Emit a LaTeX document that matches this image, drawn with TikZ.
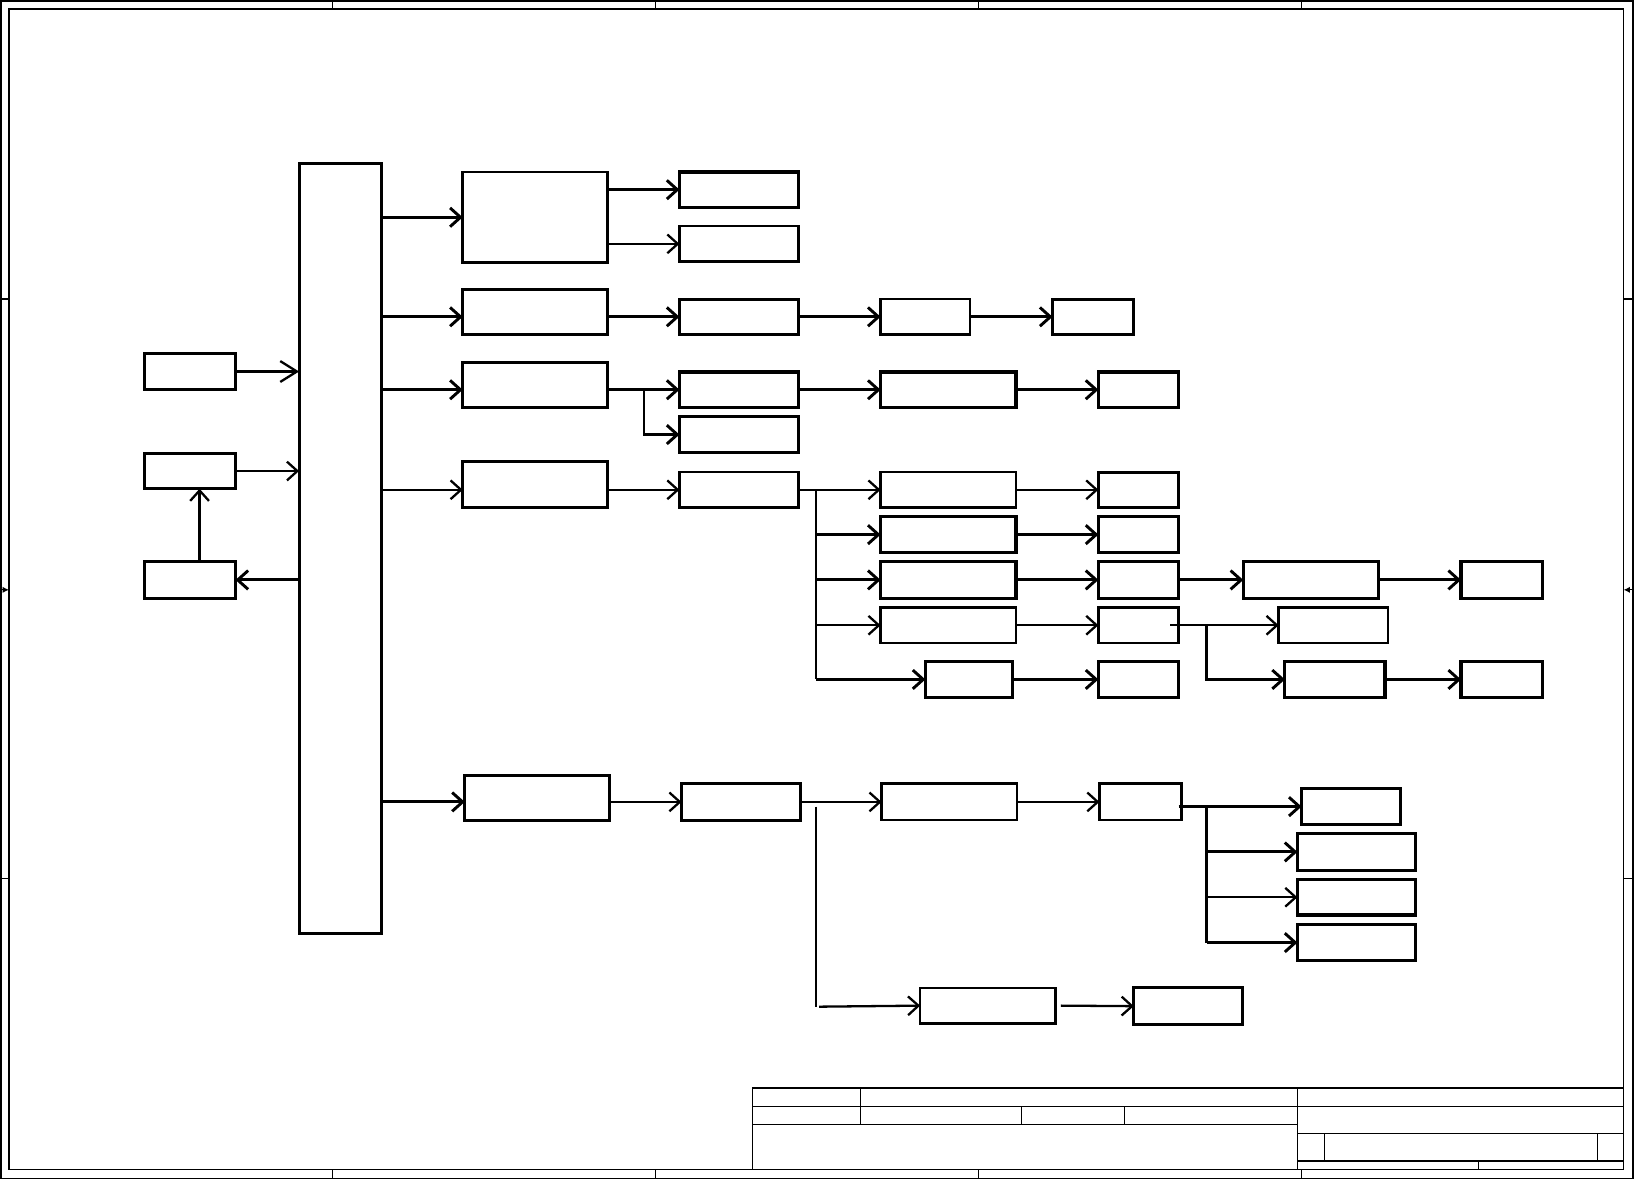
\documentclass[tikz,border=0pt]{standalone}
\usepackage{tikz}
\usetikzlibrary{arrows.meta,positioning,calc}

\begin{document}
\begin{tikzpicture}[x=0.5pt,y=-0.5pt,
    blk/.style={draw,line width=1.2pt,inner sep=0pt,outer sep=0pt},
    blkb/.style={blk,line width=1.5pt},
    arr/.style={-{Straight Barb[length=5pt,width=9pt]},line width=1.1pt},
    arrb/.style={arr,line width=1.4pt},
    bus/.style={line width=1.4pt},
    frm/.style={line width=0.6pt}
  ]
    \useasboundingbox (0,0) rectangle (1568,1132);
    % drawing frame and zone ticks
    \draw[frm] (1,1) rectangle (1567,1131);
    \draw[frm] (8.6,8.6) rectangle (1558,1122.5);
    \foreach \zx in {319,629,939,1249} {
      \draw[frm] (\zx,1) -- (\zx,8.6);
      \draw[frm] (\zx,1122.5) -- (\zx,1131);
    }
    \foreach \zy in {287,843} {
      \draw[frm] (1,\zy) -- (8.6,\zy);
      \draw[frm] (1558,\zy) -- (1567,\zy);
    }
    \draw[frm,-{Latex[length=3pt,width=3pt]}] (1,566) -- (8.6,566);
    \draw[frm,-{Latex[length=3pt,width=3pt]}] (1567,566) -- (1558,566);
    % title block
    \draw[frm] (722,1122.5) -- (722,1044) -- (1558,1044);
    \draw[frm] (722,1062) -- (1558,1062);
    \draw[frm] (722,1079) -- (1245,1079);
    \draw[frm] (826,1044) -- (826,1079);
    \draw[frm] (980,1062) -- (980,1079);
    \draw[frm] (1079,1062) -- (1079,1079);
    \draw[frm] (1245,1044) -- (1245,1122.5);
    \draw[frm] (1245,1088) -- (1558,1088);
    \draw[frm] (1245,1114) -- (1558,1114);
    \draw[frm] (1271,1088) -- (1271,1114);
    \draw[frm] (1533,1088) -- (1533,1114);
    \draw[frm] (1419,1114) -- (1419,1122.5);

    % main block and inputs
    \node[blkb,minimum width=39.5pt,minimum height=369.5pt] (main) at (326.5,526.5) {};
    \node[blkb,minimum width=43.5pt,minimum height=17.5pt] (in1) at (182.5,356.5) {};
    \node[blkb,minimum width=43.5pt,minimum height=17pt] (in2) at (182.5,452) {};
    \node[blkb,minimum width=43.5pt,minimum height=17.5pt] (out1) at (182.5,556.5) {};

    % second column
    \node[blk,minimum width=69.5pt,minimum height=43.5pt] (b1) at (513.5,208.5) {};
    \node[blkb,minimum width=69.5pt,minimum height=21.5pt] (b2) at (513.5,299.5) {};
    \node[blk,minimum width=69.5pt,minimum height=21.5pt] (b3) at (513.5,369.5) {};
    \node[blk,minimum width=69.5pt,minimum height=22pt] (b4) at (513.5,465) {};
    \node[blkb,minimum width=69.5pt,minimum height=21.5pt] (b5) at (515.5,765.5) {};

    % third column
    \node[blkb,minimum width=57pt,minimum height=17pt] (c1) at (709,182) {};
    \node[blk,minimum width=57pt,minimum height=17pt] (c2) at (709,234) {};
    \node[blkb,minimum width=57pt,minimum height=17pt] (c3) at (709,304) {};
    \node[blkb,minimum width=57pt,minimum height=17pt] (c4) at (709,374) {};
    \node[blkb,minimum width=57pt,minimum height=17pt] (c5) at (709,417) {};
    \node[blk,minimum width=57pt,minimum height=17pt] (c6) at (709,470) {};
    \node[blkb,minimum width=57pt,minimum height=17.5pt] (c7) at (711,769.5) {};

    % fourth column
    \node[blk,minimum width=43pt,minimum height=17pt] (d0) at (888,304) {};
    \node[blkb,minimum width=65pt,minimum height=17pt] (d00) at (910,374) {};
    \node[blk,minimum width=65pt,minimum height=17pt] (d1) at (910,470) {};
    \node[blkb,minimum width=65pt,minimum height=17pt] (d2) at (910,513) {};
    \node[blkb,minimum width=65pt,minimum height=17.5pt] (d3) at (910,556.5) {};
    \node[blk,minimum width=65pt,minimum height=17pt] (d4) at (910,600) {};
    \node[blkb,minimum width=42pt,minimum height=17pt] (d5) at (930,652) {};
    \node[blk,minimum width=65pt,minimum height=17.5pt] (d6) at (911,769.5) {};
    \node[blk,minimum width=65pt,minimum height=17pt] (d7) at (948,965) {};

    % fifth column
    \node[blkb,minimum width=39pt,minimum height=17pt] (e0) at (1049,304) {};
    \node[blkb,minimum width=38.5pt,minimum height=17pt] (e00) at (1092.5,374) {};
    \node[blkb,minimum width=38.5pt,minimum height=17pt] (e1) at (1092.5,470) {};
    \node[blkb,minimum width=38.5pt,minimum height=17pt] (e2) at (1092.5,513) {};
    \node[blkb,minimum width=38.5pt,minimum height=17.5pt] (e3) at (1092.5,556.5) {};
    \node[blk,minimum width=38.5pt,minimum height=17pt] (e4) at (1092.5,600) {};
    \node[blkb,minimum width=38.5pt,minimum height=17pt] (e5) at (1092.5,652) {};
    \node[blk,minimum width=39.5pt,minimum height=17.5pt] (e6) at (1094.5,769.5) {};
    \node[blkb,minimum width=52pt,minimum height=17.5pt] (e7) at (1140,965.5) {};

    % last columns
    \node[blkb,minimum width=65pt,minimum height=17.5pt] (f3) at (1258,556.5) {};
    \node[blkb,minimum width=39pt,minimum height=17.5pt] (g3) at (1441,556.5) {};
    \node[blk,minimum width=52.5pt,minimum height=17pt] (f4) at (1279.5,600) {};
    \node[blkb,minimum width=48pt,minimum height=17pt] (f5) at (1281,652) {};
    \node[blkb,minimum width=39pt,minimum height=17pt] (g5) at (1441,652) {};
    \node[blkb,minimum width=47.5pt,minimum height=17pt] (h1) at (1296.5,774) {};
    \node[blkb,minimum width=56.5pt,minimum height=17.5pt] (h2) at (1301.5,817.5) {};
    \node[blkb,minimum width=56.5pt,minimum height=17pt] (h3) at (1301.5,861) {};
    \node[blkb,minimum width=56.5pt,minimum height=17.5pt] (h4) at (1301.5,904.5) {};

    % branch points
    \coordinate (s3) at (618,374);
    \coordinate (s4top) at (783,470);
    \coordinate (s4bot) at (783,652);
    \coordinate (s44) at (1158,600);
    \coordinate (s6) at (1158,774);
    \coordinate (v7top) at (783,774);
    \coordinate (v7bot) at (783,966);

    % inputs and output of main block
    \draw[arr,-{Straight Barb[length=8pt,width=10pt]}] (in1.east) -- (in1.east -| main.west);
    \draw[arr] (in2.east) -- (in2.east -| main.west);
    \draw[arrb] (main.west |- out1) -- (out1.east);
    \draw[arr] ($(out1.north)+(9,0)$) -- ($(in2.south)+(9,0)$);

    % first row
    \draw[arrb] (main.east |- b1) -- (b1.west);
    \draw[arrb] (b1.east |- c1) -- (c1.west);
    \draw[arr] (b1.east |- c2) -- (c2.west);

    % second row
    \draw[arrb] (main.east |- c3) -- (b2.west |- c3);
    \draw[arrb] (b2.east |- c3) -- (c3.west);
    \draw[arrb] (c3) -- (d0.west);
    \draw[arrb] (d0) -- (e0.west);

    % third row
    \draw[arrb] (main.east |- c4) -- (b3.west |- c4);
    \draw[arrb] (b3.east |- c4) -- (c4.west);
    \draw[arrb] (s3) |- (c5.west);
    \draw[arrb] (c4) -- (d00.west);
    \draw[arrb] (d00) -- (e00.west);

    % fourth row
    \draw[arr] (main.east |- c6) -- (b4.west |- c6);
    \draw[arr] (b4.east |- c6) -- (c6.west);
    \draw[arr,-] (c6.east) -- (s4top);
    \draw[bus] (s4top) -- (s4bot);
    \draw[arr] (s4top) -- (d1.west);
    \draw[arrb] (s4top |- d2) -- (d2.west);
    \draw[arrb] (s4top |- d3) -- (d3.west);
    \draw[arr] (s4top |- d4) -- (d4.west);
    \draw[arrb] (s4bot) -- (d5.west);
    \draw[arr] (d1) -- (e1.west);
    \draw[arrb] (d2) -- (e2.west);
    \draw[arrb] (d3) -- (e3.west);
    \draw[arrb] (e3) -- (f3.west);
    \draw[arrb] (f3) -- (g3.west);
    \draw[arr] (d4) -- (e4.west);
    \draw[arr] ($(e4.east)+(-8,0)$) -- (f4.west);
    \draw[arrb] (s44) |- (f5.west);
    \draw[arrb] (f5) -- (g5.west);
    \draw[arrb] (d5) -- (e5.west);

    % fifth row
    \draw[arrb] (main.east |- c7) -- (b5.west |- c7);
    \draw[arr] (b5.east |- c7) -- (c7.west);
    \draw[arr] (c7) -- (d6.west);
    \draw[arr] (d6) -- (e6.west);
    \draw[arrb] ($(e6.east)+(-3,4.5)$) -- (h1.west);
    \draw[bus] (s6) -- (s6 |- h4);
    \draw[arrb] (s6 |- h2) -- (h2.west);
    \draw[arr] (s6 |- h3) -- (h3.west);
    \draw[arrb] (s6 |- h4) -- (h4.west);
    \draw[bus] (v7top) -- (v7bot);
    \draw[arr] ($(v7bot)+(3,0)$) -- (d7.west);
    \draw[arr] ($(d7.east)+(5,0)$) -- (e7.west);
  \end{tikzpicture}
\end{document}
